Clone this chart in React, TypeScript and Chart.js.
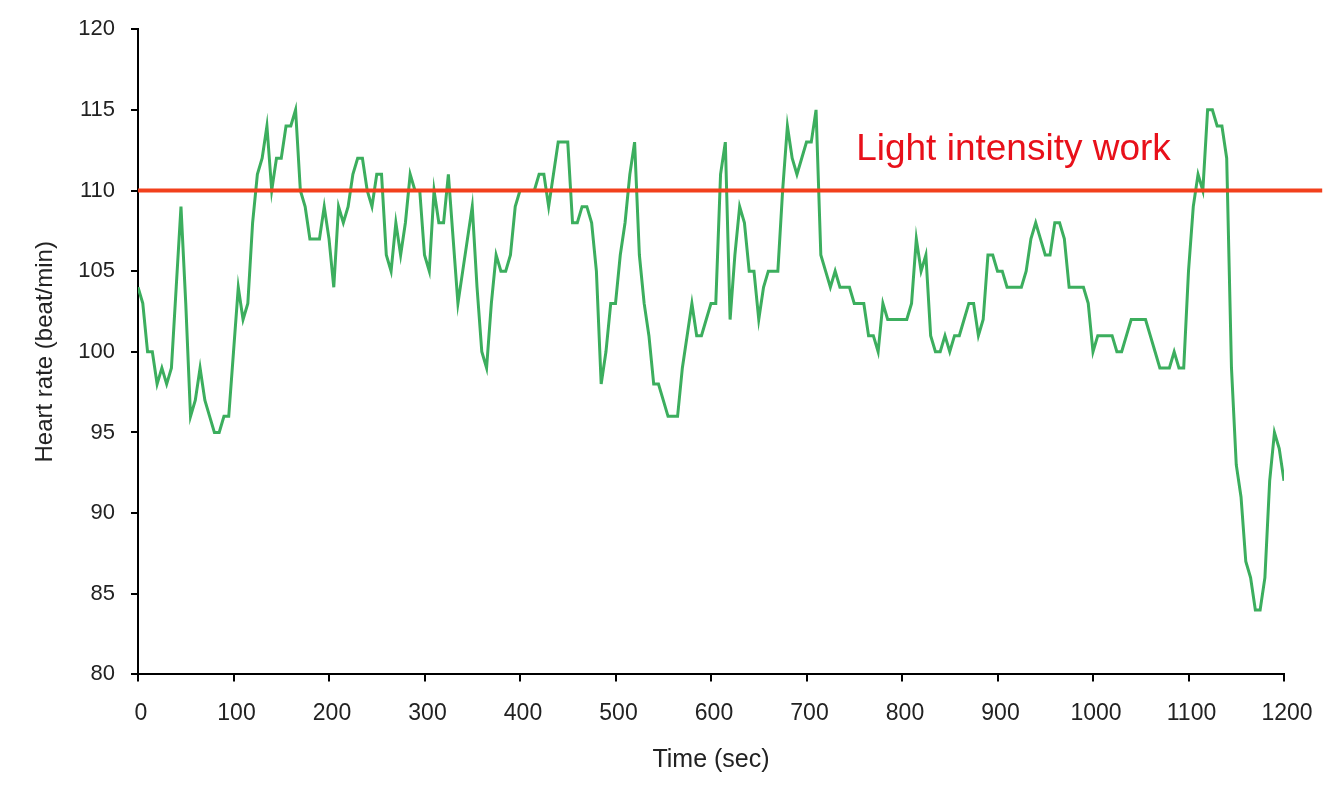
import React, { useEffect, useRef } from "react";
import { Chart, registerables } from "chart.js";

Chart.register(...registerables);

// Time (sec), one sample every 5 s
const times: number[] = [
  0, 5, 10, 15, 20, 25, 30, 35, 40, 45, 50, 55, 60, 65, 70, 75, 80, 85, 90, 95,
  100, 105, 110, 115, 120, 125, 130, 135, 140, 145, 150, 155, 160, 165, 170, 175, 180, 185, 190, 195,
  200, 205, 210, 215, 220, 225, 230, 235, 240, 245, 250, 255, 260, 265, 270, 275, 280, 285, 290, 295,
  300, 305, 310, 315, 320, 325, 330, 335, 340, 345, 350, 355, 360, 365, 370, 375, 380, 385, 390, 395,
  400, 405, 410, 415, 420, 425, 430, 435, 440, 445, 450, 455, 460, 465, 470, 475, 480, 485, 490, 495,
  500, 505, 510, 515, 520, 525, 530, 535, 540, 545, 550, 555, 560, 565, 570, 575, 580, 585, 590, 595,
  600, 605, 610, 615, 620, 625, 630, 635, 640, 645, 650, 655, 660, 665, 670, 675, 680, 685, 690, 695,
  700, 705, 710, 715, 720, 725, 730, 735, 740, 745, 750, 755, 760, 765, 770, 775, 780, 785, 790, 795,
  800, 805, 810, 815, 820, 825, 830, 835, 840, 845, 850, 855, 860, 865, 870, 875, 880, 885, 890, 895,
  900, 905, 910, 915, 920, 925, 930, 935, 940, 945, 950, 955, 960, 965, 970, 975, 980, 985, 990, 995,
  1000, 1005, 1010, 1015, 1020, 1025, 1030, 1035, 1040, 1045, 1050, 1055, 1060, 1065, 1070, 1075, 1080, 1085, 1090, 1095,
  1100, 1105, 1110, 1115, 1120, 1125, 1130, 1135, 1140, 1145, 1150, 1155, 1160, 1165, 1170, 1175, 1180, 1185, 1190, 1195,
  1200,
];

// Heart rate (beat/min)
const heartRate: number[] = [
  104, 103, 100, 100, 98, 99, 98, 99, 104, 109, 103, 96, 97, 99, 97, 96, 95, 95, 96, 96,
  100, 104, 102, 103, 108, 111, 112, 114, 110, 112, 112, 114, 114, 115, 110, 109, 107, 107, 107, 109,
  107, 104, 109, 108, 109, 111, 112, 112, 110, 109, 111, 111, 106, 105, 108, 106, 108, 111, 110, 110,
  106, 105, 110, 108, 108, 111, 107, 103, 105, 107, 109, 104, 100, 99, 103, 106, 105, 105, 106, 109,
  110, 110, 110, 110, 111, 111, 109, 111, 113, 113, 113, 108, 108, 109, 109, 108, 105, 98, 100, 103,
  103, 106, 108, 111, 113, 106, 103, 101, 98, 98, 97, 96, 96, 96, 99, 101, 103, 101, 101, 102,
  103, 103, 111, 113, 102, 106, 109, 108, 105, 105, 102, 104, 105, 105, 105, 110, 114, 112, 111, 112,
  113, 113, 115, 106, 105, 104, 105, 104, 104, 104, 103, 103, 103, 101, 101, 100, 103, 102, 102, 102,
  102, 102, 103, 107, 105, 106, 101, 100, 100, 101, 100, 101, 101, 102, 103, 103, 101, 102, 106, 106,
  105, 105, 104, 104, 104, 104, 105, 107, 108, 107, 106, 106, 108, 108, 107, 104, 104, 104, 104, 103,
  100, 101, 101, 101, 101, 100, 100, 101, 102, 102, 102, 102, 101, 100, 99, 99, 99, 100, 99, 99,
  105, 109, 111, 110, 115, 115, 114, 114, 112, 99, 93, 91, 87, 86, 84, 84, 86, 92, 95, 94,
  92,
];

// Light intensity work threshold line
const thresholdTimes: number[] = [0, 1240];
const thresholdValues: number[] = [110, 110];
const thresholdLabel = "Light intensity work";
const labelTime = 752;
const labelValue = 111.9;

const xTicks = { min: 0, max: 1200, step: 100 };
const yTicks = { min: 80, max: 120, step: 5 };

const labelPlugin = {
  id: "thresholdLabel",
  afterDatasetsDraw(chart: any) {
    const { ctx, scales } = chart;
    const x = scales.x.getPixelForValue(labelTime);
    const y = scales.y.getPixelForValue(labelValue);
    ctx.save();
    ctx.font = "37px 'Liberation Sans', Arial, sans-serif";
    ctx.fillStyle = "#e8101a";
    ctx.textAlign = "left";
    ctx.textBaseline = "alphabetic";
    ctx.fillText(thresholdLabel, x, y);
    ctx.restore();
  },
};

export default function App() {
  const ref = useRef<HTMLCanvasElement | null>(null);

  useEffect(() => {
    if (!ref.current) return;
    const chart = new Chart(ref.current, {
      type: "line",
      data: {
        datasets: [
          {
            label: "Threshold",
            data: thresholdTimes.map((t, i) => ({ x: t, y: thresholdValues[i] })),
            borderColor: "#f2401c",
            borderWidth: 4,
            pointRadius: 0,
            tension: 0,
            clip: false as any,
          },
          {
            label: "Heart rate",
            data: times.map((t, i) => ({ x: t, y: heartRate[i] })),
            borderColor: "#3cae5e",
            borderWidth: 3,
            pointRadius: 0,
            tension: 0,
          },
        ],
      },
      options: {
        animation: false,
        responsive: false,
        maintainAspectRatio: false,
        layout: { padding: { left: 31, top: 27, right: 55, bottom: 26 } },
        plugins: { legend: { display: false }, tooltip: { enabled: false } },
        scales: {
          x: {
            type: "linear",
            min: xTicks.min,
            max: xTicks.max,
            border: { display: true, color: "#000", width: 2 },
            grid: { display: true, drawOnChartArea: false, drawTicks: true, tickLength: 7, color: "#000", lineWidth: 2 },
            ticks: {
              stepSize: xTicks.step,
              padding: 18,
              labelOffset: 3,
              color: "#222",
              font: { family: "'Liberation Sans', sans-serif", size: 23 },
              maxRotation: 0,
              callback: (v: any) => String(v),
            },
            title: {
              display: true,
              text: "Time (sec)",
              color: "#222",
              font: { family: "'Liberation Sans', sans-serif", size: 25 },
              padding: { top: 0, bottom: 0 },
            },
          },
          y: {
            type: "linear",
            min: yTicks.min,
            max: yTicks.max,
            border: { display: true, color: "#000", width: 2 },
            grid: { display: true, drawOnChartArea: false, drawTicks: true, tickLength: 7, color: "#000", lineWidth: 2 },
            ticks: {
              stepSize: yTicks.step,
              padding: 16,
              color: "#222",
              font: { family: "'Liberation Sans', sans-serif", size: 22 },
              callback: (v: any) => String(v),
            },
            title: {
              display: true,
              text: "Heart rate (beat/min)",
              color: "#222",
              font: { family: "'Liberation Sans', sans-serif", size: 24 },
              padding: { top: 0, bottom: 2.5 },
            },
          },
        },
      },
      plugins: [labelPlugin],
    });
    return () => chart.destroy();
  }, []);

  return (
    <div style={{ position: "fixed", left: 0, top: 0, width: 1339, height: 801, background: "#fff" }}>
      <canvas ref={ref} width={1339} height={801} style={{ display: "block" }} />
    </div>
  );
}
